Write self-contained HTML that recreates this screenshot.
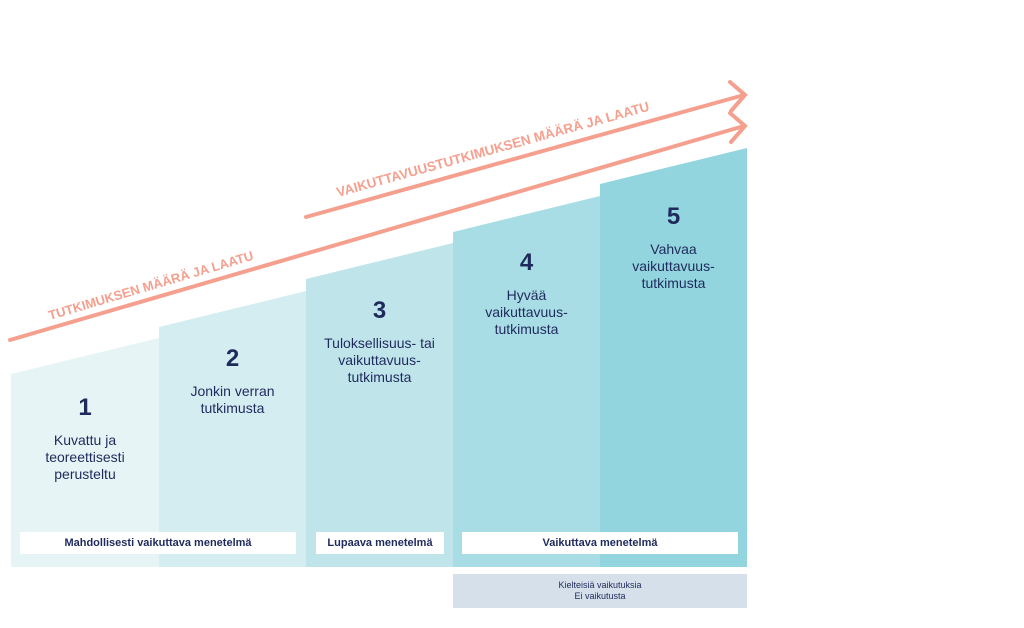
<!DOCTYPE html>
<html><head><meta charset="utf-8"><style>
body{margin:0;background:#fff;font-family:"Liberation Sans",sans-serif;}
.w{position:relative;width:1024px;height:628px;overflow:hidden}
.t{position:absolute;text-align:center;color:#1f2a5c;font-size:14px;line-height:17px}
.n{font-size:24px;font-weight:bold;line-height:28px;display:block;margin-bottom:10px}
.b{position:absolute;background:#fff;font-size:11px;font-weight:bold;color:#1f2a5c;text-align:center;line-height:22px;height:22px}
</style></head><body><div class="w">
<svg width="1024" height="628" style="position:absolute;left:0;top:0">
<polygon points="11,374 159,338 159,567 11,567" fill="#e6f4f6"/>
<polygon points="159,327 306,291 306,567 159,567" fill="#d4edf1"/>
<polygon points="306,279 453,243 453,567 306,567" fill="#bfe5eb"/>
<polygon points="453,232 600,196 600,567 453,567" fill="#a9dde5"/>
<polygon points="600,184 747,148 747,567 600,567" fill="#92d5de"/>
<rect x="453" y="574" width="294" height="34" fill="#d6e0ea"/>
<g stroke="#f5a08f" stroke-width="4" fill="none" stroke-linecap="round">
<line x1="10" y1="340" x2="744" y2="126"/>
<polyline points="730,113 745,126 731,142"/>
<line x1="306" y1="217" x2="744" y2="95"/>
<polyline points="730,82 745,95 731,111"/>
</g>
<g fill="#f5a08f" font-family="Liberation Sans" font-weight="bold" font-size="13">
<text transform="translate(50,320) rotate(-16.5)">TUTKIMUKSEN MÄÄRÄ JA LAATU</text>
<text transform="translate(338,197) rotate(-15.5)" font-size="13.5">VAIKUTTAVUUSTUTKIMUKSEN  MÄÄRÄ JA LAATU</text>
</g>
</svg>
<div class="t" style="left:11px;width:148px;top:394px"><span class="n">1</span>Kuvattu ja<br>teoreettisesti<br>perusteltu</div>
<div class="t" style="left:159px;width:147px;top:345px"><span class="n">2</span>Jonkin verran<br>tutkimusta</div>
<div class="t" style="left:306px;width:147px;top:297px"><span class="n">3</span>Tuloksellisuus- tai<br>vaikuttavuus-<br>tutkimusta</div>
<div class="t" style="left:453px;width:147px;top:249px"><span class="n">4</span>Hyvää<br>vaikuttavuus-<br>tutkimusta</div>
<div class="t" style="left:600px;width:147px;top:203px"><span class="n">5</span>Vahvaa<br>vaikuttavuus-<br>tutkimusta</div>
<div class="b" style="left:20px;width:276px;top:532px">Mahdollisesti vaikuttava menetelmä</div>
<div class="b" style="left:316px;width:128px;top:532px">Lupaava menetelmä</div>
<div class="b" style="left:462px;width:276px;top:532px">Vaikuttava menetelmä</div>
<div class="t" style="left:453px;width:294px;top:580px;font-size:9px;line-height:11px">Kielteisiä vaikutuksia<br>Ei vaikutusta</div>
</div></body></html>
